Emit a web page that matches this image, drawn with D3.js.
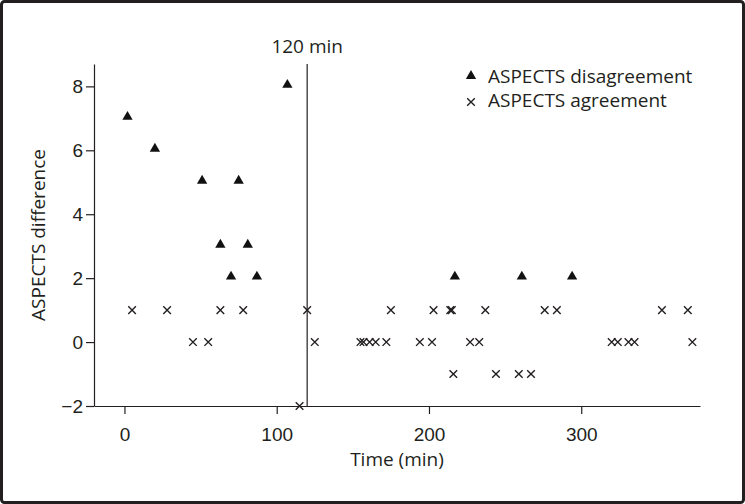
<!DOCTYPE html>
<html>
<head>
<meta charset="utf-8">
<script src="https://cdn.jsdelivr.net/npm/d3@7"></script>
<style>
  body { margin: 0; background: #fff; }
  svg { display: block; font-family: "Open Sans", sans-serif; }
  .axis text { font-size: 19px; fill: #231f20; }
  .axis path, .axis line { stroke: #231f20; stroke-width: 1.2; }
</style>
</head>
<body>
<svg width="745" height="504"></svg>
<script>
// disagreement points (triangles)
var disagreeTime = [2, 20, 51, 63, 70, 75, 81, 87, 107, 217, 261, 294];
var disagreeDiff = [7, 6, 5, 3, 2, 5, 3, 2, 8, 2, 2, 2];

// agreement points (crosses)
var agreeTime = [5, 28, 63, 78, 120, 175, 203, 214, 215, 237, 276, 284, 353, 370,
                 45, 55, 125, 155, 157, 161, 165, 172, 194, 202, 227, 233, 320, 324, 331, 335, 373,
                 216, 244, 259, 267,
                 115];
var agreeDiff = [1, 1, 1, 1, 1, 1, 1, 1, 1, 1, 1, 1, 1, 1,
                 0, 0, 0, 0, 0, 0, 0, 0, 0, 0, 0, 0, 0, 0, 0, 0, 0,
                 -1, -1, -1, -1,
                 -2];

var xTicks = [0, 100, 200, 300];
var yTicks = [-2, 0, 2, 4, 6, 8];
var cutoff = 120;
var legendLabels = ["ASPECTS disagreement", "ASPECTS agreement"];

var svg = d3.select("svg"),
    margin = { top: 64, right: 45, bottom: 98, left: 94 },
    width = +svg.attr("width") - margin.left - margin.right,
    height = +svg.attr("height") - margin.top - margin.bottom;

var ink = "#231f20";

// frame round the whole figure
svg.append("rect")
    .attr("x", 1.5).attr("y", 1.5)
    .attr("width", 742).attr("height", 501)
    .attr("rx", 3)
    .attr("fill", "none")
    .attr("stroke", ink)
    .attr("stroke-width", 3);

var x = d3.scaleLinear().domain([-20, 378]).range([0, width]),
    y = d3.scaleLinear().domain([-2, 8.7]).range([height, 0]);

var g = svg.append("g")
    .attr("transform", "translate(" + margin.left + "," + margin.top + ")");

g.append("g")
    .attr("class", "axis axis--x")
    .attr("transform", "translate(0," + height + ")")
    .call(d3.axisBottom(x).tickValues(xTicks).tickSize(8).tickSizeOuter(0).tickPadding(14));

g.append("g")
    .attr("class", "axis axis--y")
    .call(d3.axisLeft(y).tickValues(yTicks).tickSize(8).tickSizeOuter(0).tickPadding(3));

g.selectAll(".axis .domain").attr("stroke-width", 1.5);

// 120 min line
g.append("line")
    .attr("x1", x(cutoff)).attr("x2", x(cutoff))
    .attr("y1", 0).attr("y2", height)
    .attr("stroke", ink).attr("stroke-width", 1.2);

g.append("text")
    .attr("x", x(cutoff)).attr("y", -11)
    .attr("text-anchor", "middle")
    .attr("font-size", "19px").attr("fill", ink)
    .text(cutoff + " min");

// axis titles
svg.append("text")
    .attr("transform", "translate(45," + (margin.top + height / 2) + ") rotate(-90)")
    .attr("text-anchor", "middle")
    .attr("font-size", "19px").attr("fill", ink)
    .text("ASPECTS difference");

svg.append("text")
    .attr("x", margin.left + width / 2).attr("y", 466)
    .attr("text-anchor", "middle")
    .attr("font-size", "19px").attr("fill", ink)
    .text("Time (min)");

var tri = d3.symbol().type(d3.symbolTriangle).size(46);

function cross(sel, r) {
    sel.append("path")
        .attr("d", "M" + (-r) + "," + (-r) + "L" + r + "," + r + "M" + (-r) + "," + r + "L" + r + "," + (-r))
        .attr("stroke", ink).attr("stroke-width", 1.4).attr("fill", "none");
}

g.selectAll(".tri")
    .data(d3.range(disagreeTime.length))
    .enter().append("path")
    .attr("class", "tri")
    .attr("d", tri)
    .attr("fill", "#111")
    .attr("transform", function(i) { return "translate(" + x(disagreeTime[i]) + "," + (y(disagreeDiff[i]) - 1.5) + ")"; });

g.selectAll(".cross")
    .data(d3.range(agreeTime.length))
    .enter().append("g")
    .attr("class", "cross")
    .attr("transform", function(i) { return "translate(" + x(agreeTime[i]) + "," + y(agreeDiff[i]) + ")"; })
    .call(cross, 3.8);

// legend
var lg = svg.append("g").attr("transform", "translate(471,0)");
lg.append("path").attr("d", tri).attr("fill", "#111")
    .attr("transform", "translate(0,76)");
lg.append("g").attr("transform", "translate(0,102)").call(cross, 3.8);
lg.selectAll("text")
    .data(legendLabels)
    .enter().append("text")
    .attr("x", 17)
    .attr("y", function(d, i) { return 83 + i * 24; })
    .attr("font-size", "19px").attr("fill", ink)
    .text(function(d) { return d; });
</script>
</body>
</html>
